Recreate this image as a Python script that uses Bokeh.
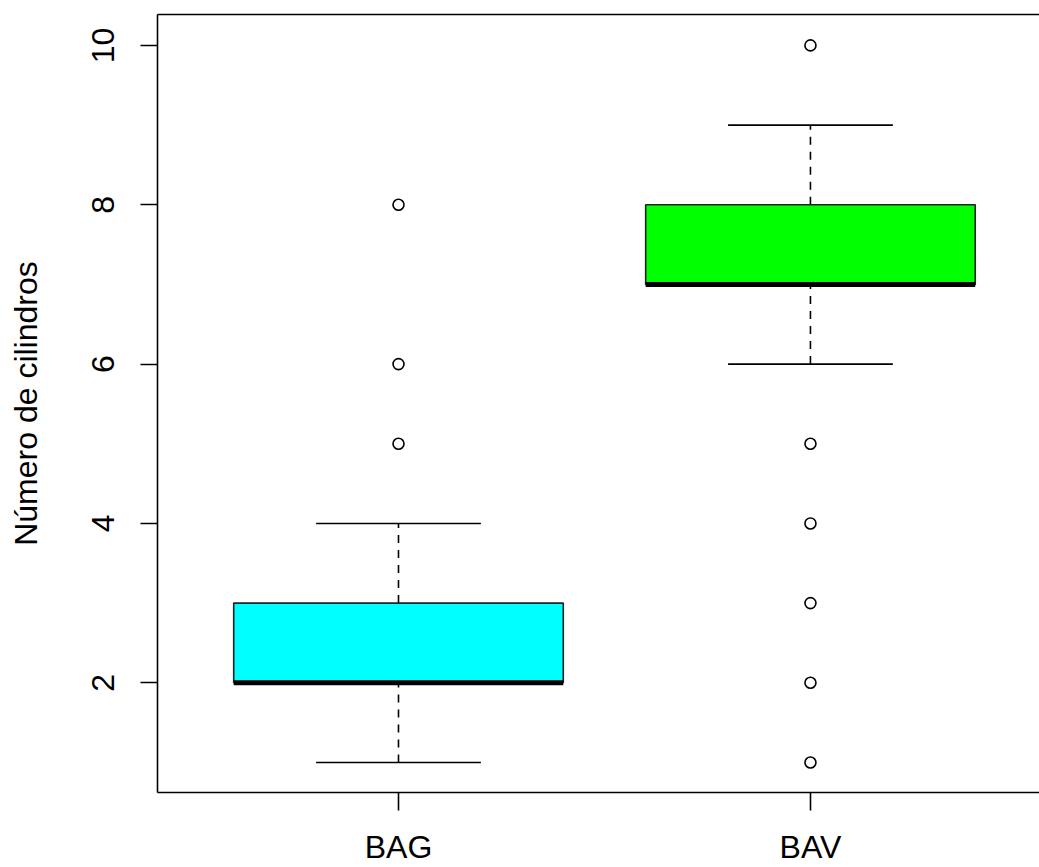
from bokeh.plotting import figure
from bokeh.models import Range1d, FixedTicker, LinearAxis, ColumnDataSource
from bokeh.embed import file_html
from bokeh.resources import INLINE

# ---- data ----
categories = ["BAG", "BAV"]
positions = [1, 2]
whisker_low = [1, 6]
q1 = [2, 7]
median = [2, 7]
q3 = [3, 8]
whisker_high = [4, 9]
box_colors = ["#00FFFF", "#00FF00"]
outliers_bag = [5, 6, 8]
outliers_bav = [1, 2, 3, 4, 5, 10]
y_ticks = [2, 4, 6, 8, 10]
y_label = "Número de cilindros"

FONT = "Liberation Sans"
FS = "32px"
BOX_W = 0.8
CAP_W = 0.4

p = figure(width=1039, height=867, output_backend="svg", toolbar_location=None,
           x_range=Range1d(0.415, 2.556), y_range=Range1d(0.623, 10.388),
           min_border_left=157, min_border_right=0, min_border_top=14, min_border_bottom=73)
p.outline_line_color = None
p.xgrid.visible = False
p.ygrid.visible = False
p.background_fill_color = "white"

src = ColumnDataSource(dict(x=positions, lo=whisker_low, q1=q1, med=median, q3=q3,
                            hi=whisker_high, color=box_colors,
                            xl=[v - BOX_W / 2 for v in positions], xr=[v + BOX_W / 2 for v in positions],
                            cl=[v - CAP_W / 2 for v in positions], cr=[v + CAP_W / 2 for v in positions]))

# whiskers (dashed)
p.segment(x0="x", y0="q3", x1="x", y1="hi", source=src, line_color="black", line_width=1.6, line_dash="8 7")
p.segment(x0="x", y0="lo", x1="x", y1="q1", source=src, line_color="black", line_width=1.6, line_dash="8 7")
# caps
p.segment(x0="cl", y0="hi", x1="cr", y1="hi", source=src, line_color="black", line_width=1.6)
p.segment(x0="cl", y0="lo", x1="cr", y1="lo", source=src, line_color="black", line_width=1.6)
# boxes
p.vbar(x="x", width=BOX_W, bottom="q1", top="q3", source=src, fill_color="color",
       line_color="#222222", line_width=1.6)
# medians
p.segment(x0="xl", y0="med", x1="xr", y1="med", source=src, line_color="black", line_width=5)

# outliers
ox = [positions[0]] * len(outliers_bag) + [positions[1]] * len(outliers_bav)
oy = outliers_bag + outliers_bav
p.scatter(ox, oy, marker="circle", size=11, fill_color=None, line_color="black", line_width=1.6)

# axes
xa = p.xaxis[0]
xa.ticker = FixedTicker(ticks=positions)
xa.major_label_overrides = {pos: c for pos, c in zip(positions, categories)}
ya = p.yaxis[0]
ya.ticker = FixedTicker(ticks=y_ticks)
ya.major_label_orientation = "vertical"
ya.axis_label = y_label

for ax in (xa, ya):
    ax.axis_line_color = "black"
    ax.axis_line_width = 1.6
    ax.major_tick_line_color = "black"
    ax.major_tick_line_width = 1.6
    ax.major_tick_in = 0
    ax.minor_tick_line_color = None
    ax.major_label_text_font = FONT
    ax.major_label_text_font_size = FS
    ax.major_label_text_color = "black"
    ax.axis_label_text_font = FONT
    ax.axis_label_text_font_size = FS
    ax.axis_label_text_font_style = "normal"
    ax.axis_label_text_color = "black"

xa.major_tick_out = 18
xa.major_label_standoff = 18
ya.major_tick_out = 17
ya.major_label_standoff = 26
ya.axis_label_standoff = 46

top = LinearAxis(ticker=FixedTicker(ticks=[]), axis_line_color="black", axis_line_width=1.6,
                 major_tick_out=0, major_tick_in=0, minor_tick_out=0, minor_tick_in=0,
                 major_label_standoff=0, major_label_text_font_size="0px")
p.add_layout(top, "above")

open("out.html", "w").write(file_html(p, INLINE))
